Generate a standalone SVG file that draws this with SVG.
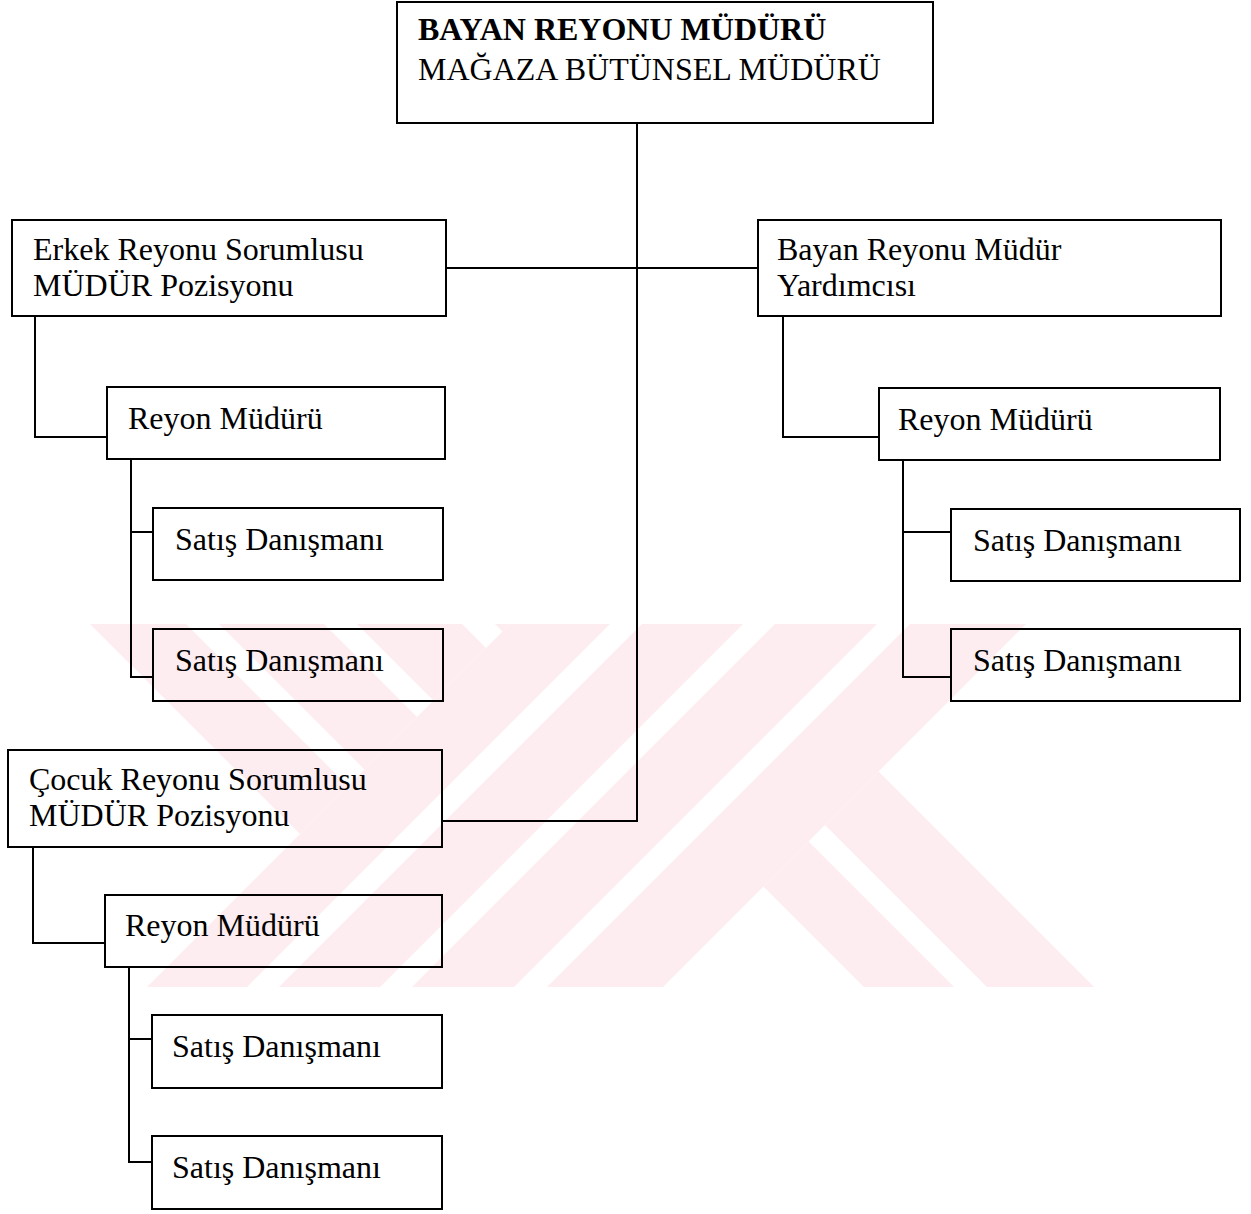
<svg xmlns="http://www.w3.org/2000/svg" width="1251" height="1214" viewBox="0 0 1251 1214">
  <style>
    .box { fill: none; stroke: #000; stroke-width: 2; }
    .lbl { font-family: "Liberation Serif", "Times New Roman", serif; font-size: 32px; fill: #000; }
    .bold { font-weight: bold; }
    .wire { fill: none; stroke: #000; stroke-width: 2; }
    .mark { fill: #fdecf0; }
  </style>
  <defs>
    <clipPath id="markClip">
      <rect x="0" y="624" width="1251" height="363"/>
    </clipPath>
  </defs>

  <rect x="0" y="0" width="1251" height="1214" fill="#fff"/>

  <!-- background emblem: striped diagonal bands -->
  <g id="emblem" class="mark" clip-path="url(#markClip)">
    <!-- rising bands -->
    <polygon points="534,600 634,600 234,1000 134,1000"/>
    <polygon points="666,600 767,600 367,1000 266,1000"/>
    <polygon points="799,600 901,600 501,1000 399,1000"/>
    <polygon points="934,600 1050,600 650,1000 534,1000"/>
    <!-- upper-left falling bands -->
    <polygon points="495,624 510,624 502.5,631.5"/>
    <polygon points="357,624 462,624 486,648 433.5,700.5"/>
    <polygon points="219,624 324,624 417,717 364.5,769.5"/>
    <polygon points="90,624 186,624 348,786 300,834"/>
    <!-- lower-right falling bands -->
    <polygon points="763.5,886.5 808.5,841.5 967,1000 877,1000"/>
    <polygon points="825,825 878.5,771.5 1107,1000 1000,1000"/>
  </g>

  <g id="connectors">
    <path class="wire" d="M637,123 V821 H442"/>
    <path class="wire" d="M446,268 H758"/>
    <path class="wire" d="M35,316 V437 H107"/>
    <path class="wire" d="M131,459 V677 H153 M131,532 H153"/>
    <path class="wire" d="M783,316 V437 H879"/>
    <path class="wire" d="M903,460 V677 H951 M903,532 H951"/>
    <path class="wire" d="M33,847 V943 H105"/>
    <path class="wire" d="M129,967 V1162 H152 M129,1039 H152"/>
  </g>

  <g id="node-top">
    <rect class="box" x="397" y="2" width="536" height="121"/>
    <text class="lbl bold" x="418" y="40">BAYAN REYONU MÜDÜRÜ</text>
    <text class="lbl" x="418" y="80">MAĞAZA BÜTÜNSEL MÜDÜRÜ</text>
  </g>

  <g id="node-erkek">
    <rect class="box" x="12" y="220" width="434" height="96"/>
    <text class="lbl" x="33" y="260">Erkek Reyonu Sorumlusu</text>
    <text class="lbl" x="33" y="296">MÜDÜR Pozisyonu</text>
  </g>

  <g id="node-bayan">
    <rect class="box" x="758" y="220" width="463" height="96"/>
    <text class="lbl" x="777" y="260">Bayan Reyonu Müdür</text>
    <text class="lbl" x="777" y="296">Yardımcısı</text>
  </g>

  <g id="node-reyon-erkek">
    <rect class="box" x="107" y="387" width="338" height="72"/>
    <text class="lbl" x="128" y="429">Reyon Müdürü</text>
  </g>

  <g id="node-reyon-bayan">
    <rect class="box" x="879" y="388" width="341" height="72"/>
    <text class="lbl" x="898" y="430">Reyon Müdürü</text>
  </g>

  <g id="node-satis-erkek-1">
    <rect class="box" x="153" y="508" width="290" height="72"/>
    <text class="lbl" x="175" y="550">Satış Danışmanı</text>
  </g>

  <g id="node-satis-erkek-2">
    <rect class="box" x="153" y="629" width="290" height="72"/>
    <text class="lbl" x="175" y="671">Satış Danışmanı</text>
  </g>

  <g id="node-satis-bayan-1">
    <rect class="box" x="951" y="509" width="289" height="72"/>
    <text class="lbl" x="973" y="551">Satış Danışmanı</text>
  </g>

  <g id="node-satis-bayan-2">
    <rect class="box" x="951" y="629" width="289" height="72"/>
    <text class="lbl" x="973" y="671">Satış Danışmanı</text>
  </g>

  <g id="node-cocuk">
    <rect class="box" x="8" y="750" width="434" height="97"/>
    <text class="lbl" x="29" y="790">Çocuk Reyonu Sorumlusu</text>
    <text class="lbl" x="29" y="826">MÜDÜR Pozisyonu</text>
  </g>

  <g id="node-reyon-cocuk">
    <rect class="box" x="105" y="895" width="337" height="72"/>
    <text class="lbl" x="125" y="936">Reyon Müdürü</text>
  </g>

  <g id="node-satis-cocuk-1">
    <rect class="box" x="152" y="1015" width="290" height="73"/>
    <text class="lbl" x="172" y="1057">Satış Danışmanı</text>
  </g>

  <g id="node-satis-cocuk-2">
    <rect class="box" x="152" y="1136" width="290" height="73"/>
    <text class="lbl" x="172" y="1178">Satış Danışmanı</text>
  </g>
</svg>
